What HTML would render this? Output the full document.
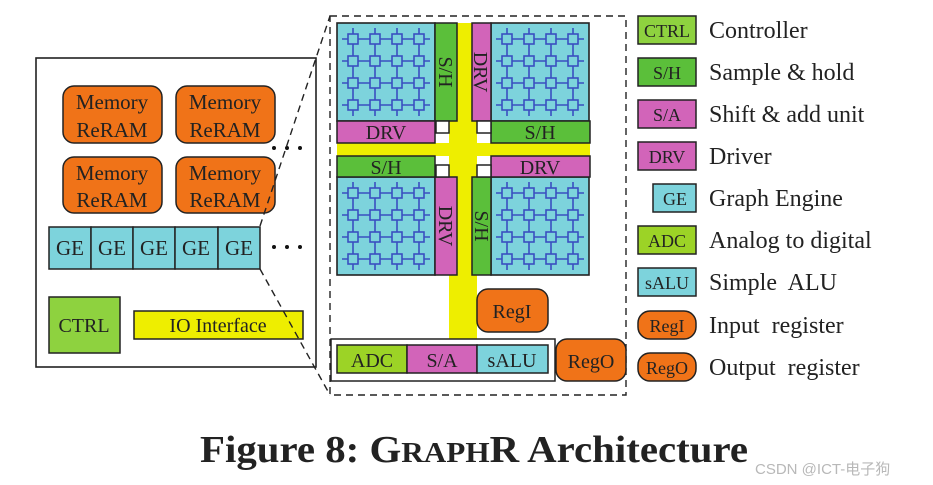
<!DOCTYPE html>
<html><head><meta charset="utf-8"><style>
html,body{margin:0;padding:0;background:#fff;}
svg{display:block;}
text{font-family:"Liberation Serif",serif;fill:#222;}
</style></head><body>
<svg width="933" height="485" viewBox="0 0 933 485" xmlns="http://www.w3.org/2000/svg">
<defs>
<g id="tile">
<rect x="0" y="0" width="98" height="98" fill="#7dd3dc" stroke="#222" stroke-width="1.6"/>
<g stroke="#3a4fc0" stroke-width="1.6" fill="none">
<path d="M5 16H93M5 38H93M5 60H93M5 82H93M16 5V93M38 5V93M60 5V93M82 5V93"/>
</g>
<g stroke="#3a4fc0" stroke-width="1.6" fill="#7dd3dc">
<rect x="11" y="11" width="10" height="10"/><rect x="33" y="11" width="10" height="10"/><rect x="55" y="11" width="10" height="10"/><rect x="77" y="11" width="10" height="10"/>
<rect x="11" y="33" width="10" height="10"/><rect x="33" y="33" width="10" height="10"/><rect x="55" y="33" width="10" height="10"/><rect x="77" y="33" width="10" height="10"/>
<rect x="11" y="55" width="10" height="10"/><rect x="33" y="55" width="10" height="10"/><rect x="55" y="55" width="10" height="10"/><rect x="77" y="55" width="10" height="10"/>
<rect x="11" y="77" width="10" height="10"/><rect x="33" y="77" width="10" height="10"/><rect x="55" y="77" width="10" height="10"/><rect x="77" y="77" width="10" height="10"/>
</g>
</g>
</defs>

<!-- left chip box -->
<rect x="36" y="58" width="280" height="309" fill="none" stroke="#222" stroke-width="1.6"/>
<g stroke="#222" stroke-width="1.5" fill="#f07318">
<rect x="63" y="86" width="99" height="57" rx="11"/>
<rect x="176" y="86" width="99" height="57" rx="11"/>
<rect x="63" y="157" width="99" height="56" rx="11"/>
<rect x="176" y="157" width="99" height="56" rx="11"/>
</g>
<g font-size="21" text-anchor="middle">
<text x="112" y="109">Memory</text><text x="112" y="137">ReRAM</text>
<text x="225" y="109">Memory</text><text x="225" y="137">ReRAM</text>
<text x="112" y="180">Memory</text><text x="112" y="207">ReRAM</text>
<text x="225" y="180">Memory</text><text x="225" y="207">ReRAM</text>
</g>
<g fill="#111">
<circle cx="274" cy="148" r="2"/><circle cx="287" cy="148" r="2"/><circle cx="300" cy="148" r="2"/>
<circle cx="274" cy="247" r="2"/><circle cx="287" cy="247" r="2"/><circle cx="300" cy="247" r="2"/>
</g>
<g stroke="#222" stroke-width="1.5" fill="#7dd3dc">
<rect x="49" y="227" width="42" height="42"/><rect x="91" y="227" width="42" height="42"/><rect x="133" y="227" width="42" height="42"/><rect x="175" y="227" width="43" height="42"/><rect x="218" y="227" width="42" height="42"/>
</g>
<g font-size="21" text-anchor="middle">
<text x="70" y="255">GE</text><text x="112" y="255">GE</text><text x="154" y="255">GE</text><text x="196" y="255">GE</text><text x="239" y="255">GE</text>
</g>
<rect x="49" y="297" width="71" height="56" fill="#8ed23f" stroke="#222" stroke-width="1.5"/>
<text x="84" y="332" font-size="20" text-anchor="middle">CTRL</text>
<rect x="134" y="311" width="169" height="28" fill="#eeee00" stroke="#222" stroke-width="1.5"/>
<text x="218" y="332" font-size="20" text-anchor="middle">IO Interface</text>

<!-- zoom lines -->
<g stroke="#222" stroke-width="1.4" stroke-dasharray="7,5" fill="none">
<path d="M260 226L330 16"/><path d="M260 269L330 395"/>
<rect x="330" y="16" width="296" height="379"/>
</g>

<!-- GE detail -->
<rect x="449" y="121" width="28" height="218" fill="#eeee00"/>
<rect x="457" y="23" width="15" height="100" fill="#eeee00"/>
<rect x="337" y="143" width="253" height="13" fill="#eeee00"/>
<use href="#tile" x="337" y="23"/>
<use href="#tile" x="491" y="23"/>
<use href="#tile" x="337" y="177"/>
<use href="#tile" x="491" y="177"/>
<g stroke="#222" stroke-width="1.5">
<rect x="435" y="23" width="22" height="98" fill="#5bbf3a"/>
<rect x="472" y="23" width="19" height="98" fill="#d264b9"/>
<rect x="337" y="121" width="98" height="22" fill="#d264b9"/>
<rect x="491" y="121" width="99" height="22" fill="#5bbf3a"/>
<rect x="337" y="156" width="98" height="21" fill="#5bbf3a"/>
<rect x="491" y="156" width="99" height="21" fill="#d264b9"/>
<rect x="435" y="177" width="22" height="98" fill="#d264b9"/>
<rect x="472" y="177" width="19" height="98" fill="#5bbf3a"/>
<rect x="436" y="121" width="13" height="12" fill="#fff"/>
<rect x="477" y="121" width="14" height="12" fill="#fff"/>
<rect x="436" y="165" width="13" height="12" fill="#fff"/>
<rect x="477" y="165" width="14" height="12" fill="#fff"/>
</g>
<g font-size="20" text-anchor="middle">
<text x="386" y="139">DRV</text>
<text x="540" y="139">S/H</text>
<text x="386" y="174">S/H</text>
<text x="540" y="174">DRV</text>
<text transform="translate(439,72) rotate(90)">S/H</text>
<text transform="translate(474,72) rotate(90)">DRV</text>
<text transform="translate(439,226) rotate(90)">DRV</text>
<text transform="translate(475,226) rotate(90)">S/H</text>
</g>
<rect x="477" y="289" width="71" height="43" rx="11" fill="#f07318" stroke="#222" stroke-width="1.5"/>
<text x="512" y="318" font-size="20" text-anchor="middle">RegI</text>
<rect x="331" y="339" width="224" height="42" fill="#fff" stroke="#222" stroke-width="1.5"/>
<g stroke="#222" stroke-width="1.5">
<rect x="337" y="345" width="70" height="28" fill="#9cd326"/>
<rect x="407" y="345" width="70" height="28" fill="#d264b9"/>
<rect x="477" y="345" width="71" height="28" fill="#7dd3dc"/>
</g>
<g font-size="20" text-anchor="middle">
<text x="372" y="367">ADC</text><text x="442" y="367">S/A</text><text x="512" y="367">sALU</text>
</g>
<rect x="556" y="339" width="70" height="42" rx="11" fill="#f07318" stroke="#222" stroke-width="1.5"/>
<text x="591" y="368" font-size="20" text-anchor="middle">RegO</text>

<!-- legend -->
<g stroke="#222" stroke-width="1.5">
<rect x="638" y="16" width="58" height="28" fill="#8ed23f"/>
<rect x="638" y="58" width="58" height="28" fill="#5bbf3a"/>
<rect x="638" y="100" width="58" height="28" fill="#d264b9"/>
<rect x="638" y="142" width="58" height="28" fill="#d264b9"/>
<rect x="653" y="184" width="43" height="28" fill="#7dd3dc"/>
<rect x="638" y="226" width="58" height="28" fill="#9cd326"/>
<rect x="638" y="268" width="58" height="28" fill="#7dd3dc"/>
<rect x="638" y="311" width="58" height="28" rx="12" fill="#f07318"/>
<rect x="638" y="353" width="58" height="28" rx="12" fill="#f07318"/>
</g>
<g font-size="18" text-anchor="middle">
<text x="667" y="37">CTRL</text><text x="667" y="79">S/H</text><text x="667" y="121">S/A</text><text x="667" y="163">DRV</text>
<text x="675" y="205">GE</text><text x="667" y="247">ADC</text><text x="667" y="289">sALU</text><text x="667" y="332">RegI</text><text x="667" y="374">RegO</text>
</g>
<g font-size="24">
<text x="709" y="38">Controller</text>
<text x="709" y="80">Sample &amp; hold</text>
<text x="709" y="122">Shift &amp; add unit</text>
<text x="709" y="164">Driver</text>
<text x="709" y="206">Graph Engine</text>
<text x="709" y="248">Analog to digital</text>
<text x="709" y="290">Simple&#160; ALU</text>
<text x="709" y="333">Input&#160; register</text>
<text x="709" y="375">Output&#160; register</text>
</g>

<text x="200" y="462" font-size="38" font-weight="bold" textLength="548" lengthAdjust="spacingAndGlyphs">Figure 8: G<tspan font-size="29">RAPH</tspan>R Architecture</text>
<text x="755" y="474" font-size="15" style="font-family:'Liberation Sans','Noto Sans CJK SC',sans-serif;fill:#b8b8b8">CSDN @ICT-电子狗</text>
</svg>
</body></html>
